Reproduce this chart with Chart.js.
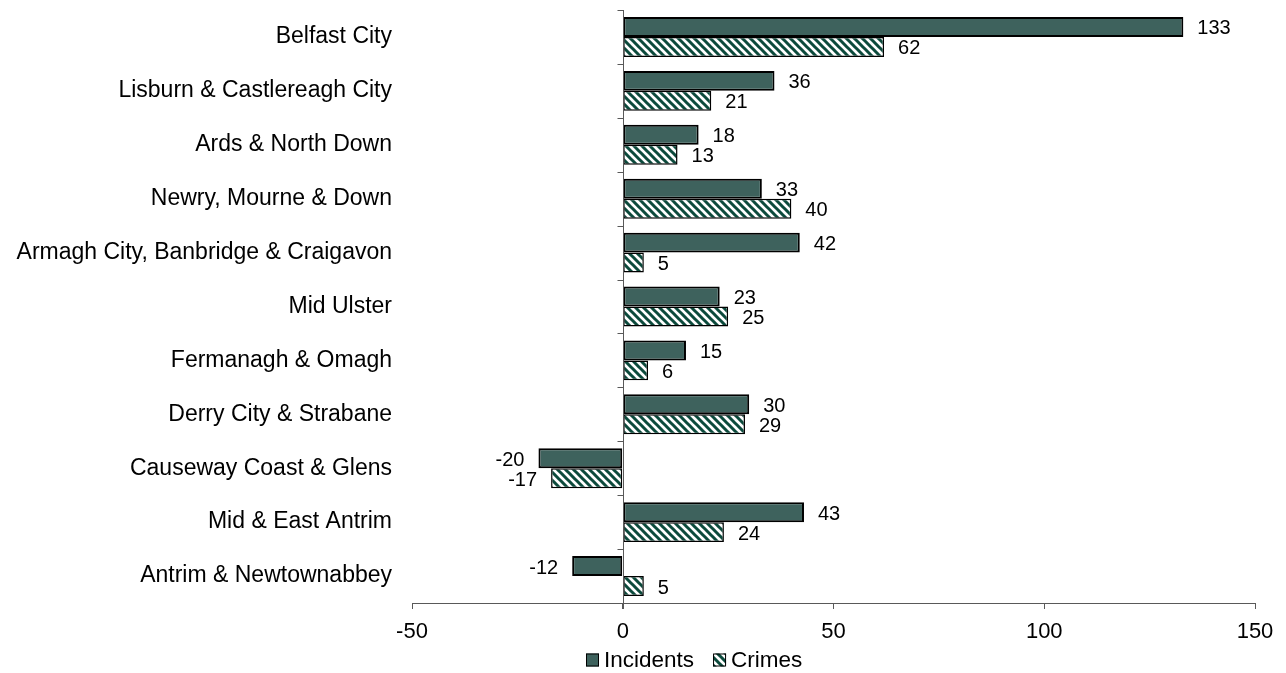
<!DOCTYPE html>
<html>
<head>
<meta charset="utf-8">
<script src="https://cdn.jsdelivr.net/npm/chart.js@4.4.1/dist/chart.umd.min.js"></script>
<style>
  html, body { margin: 0; padding: 0; background: #ffffff; }
  #wrap { width: 1286px; height: 673px; position: relative; }
</style>
</head>
<body>
<div id="wrap"><canvas id="chart" width="1286" height="673"></canvas></div>
<script>
// Change by policing district
const districts = [
  'Belfast City',
  'Lisburn & Castlereagh City',
  'Ards & North Down',
  'Newry, Mourne & Down',
  'Armagh City, Banbridge & Craigavon',
  'Mid Ulster',
  'Fermanagh & Omagh',
  'Derry City & Strabane',
  'Causeway Coast & Glens',
  'Mid & East Antrim',
  'Antrim & Newtownabbey'
];
const incidents = [133, 36, 18, 33, 42, 23, 15, 30, -20, 43, -12];
const crimes = [62, 21, 13, 40, 5, 25, 6, 29, -17, 24, 5];
const xTicks = [-50, 0, 50, 100, 150];

const FONT = '"Liberation Sans", Arial, sans-serif';
const SOLID = '#3e625d';
const HATCH = '#0c4a3c';
const AXIS = '#595959';

// Diagonal stripe fill for the second series
function makeHatch(ctx) {
  const s = 8;
  const c = document.createElement('canvas');
  c.width = s; c.height = s;
  const g = c.getContext('2d');
  g.fillStyle = '#ffffff';
  g.fillRect(0, 0, s, s);
  g.strokeStyle = HATCH;
  g.lineWidth = 3;
  g.beginPath();
  g.moveTo(-s, -s); g.lineTo(2 * s, 2 * s);
  g.moveTo(-s, 0); g.lineTo(s, 2 * s);
  g.moveTo(0, -s); g.lineTo(2 * s, s);
  g.stroke();
  return ctx.createPattern(c, 'repeat');
}
const canvas = document.getElementById('chart');
const hatch = makeHatch(canvas.getContext('2d'));

// Zero line with tick marks at the category boundaries
const zeroAxis = {
  id: 'zeroAxis',
  afterDatasetsDraw(chart) {
    const { ctx, scales: { x, y }, chartArea } = chart;
    const x0 = Math.round(x.getPixelForValue(0)) + 0.5;
    ctx.save();
    ctx.strokeStyle = AXIS;
    ctx.lineWidth = 1;
    ctx.beginPath();
    ctx.moveTo(x0, chartArea.top);
    ctx.lineTo(x0, chartArea.bottom + 6);
    const n = y.ticks.length;
    const step = (chartArea.bottom - chartArea.top) / n;
    for (let i = 0; i < n; i++) {
      const yy = Math.round(y.getPixelForValue(i) - step / 2) + 0.5;
      ctx.moveTo(x0 - 6, yy);
      ctx.lineTo(x0, yy);
    }
    ctx.stroke();
    ctx.restore();
  }
};

// Value labels at the end of each bar
const valueLabels = {
  id: 'valueLabels',
  afterDatasetsDraw(chart) {
    const { ctx } = chart;
    ctx.save();
    ctx.font = '20px ' + FONT;
    ctx.fillStyle = '#000000';
    ctx.textBaseline = 'middle';
    chart.data.datasets.forEach((ds, di) => {
      const meta = chart.getDatasetMeta(di);
      meta.data.forEach((bar, i) => {
        const v = ds.data[i];
        if (v >= 0) {
          ctx.textAlign = 'left';
          ctx.fillText(String(v), bar.x + 14, bar.y + 2);
        } else {
          ctx.textAlign = 'right';
          ctx.fillText(String(v), bar.x - 14, bar.y + 2);
        }
      });
    });
    ctx.restore();
  }
};

// Legend row below the axis
const bottomLegend = {
  id: 'bottomLegend',
  afterDraw(chart) {
    const { ctx } = chart;
    const box = 13;
    const cy = 660;
    let x = 586;
    ctx.save();
    ctx.font = '22.5px ' + FONT;
    ctx.textBaseline = 'middle';
    ctx.textAlign = 'left';
    chart.data.datasets.forEach((ds) => {
      ctx.fillStyle = ds.backgroundColor;
      ctx.fillRect(x, cy - box / 2, box, box);
      ctx.strokeStyle = '#000000';
      ctx.lineWidth = 1;
      ctx.strokeRect(x + 0.5, cy - box / 2 + 0.5, box - 1, box - 1);
      ctx.fillStyle = '#000000';
      ctx.fillText(ds.label, x + box + 5, cy + 1);
      x += box + 5 + ctx.measureText(ds.label).width + 19;
    });
    ctx.restore();
  }
};

new Chart(canvas, {
  type: 'bar',
  data: {
    labels: districts,
    datasets: [
      {
        label: 'Incidents',
        data: incidents,
        backgroundColor: SOLID,
        borderColor: '#000000',
        borderWidth: 2,
        borderSkipped: false,
        categoryPercentage: 0.74,
        barPercentage: 1
      },
      {
        label: 'Crimes',
        data: crimes,
        backgroundColor: hatch,
        borderColor: '#000000',
        borderWidth: 1.5,
        borderSkipped: false,
        categoryPercentage: 0.74,
        barPercentage: 1
      }
    ]
  },
  options: {
    indexAxis: 'y',
    responsive: false,
    animation: false,
    layout: { padding: { top: 10, right: 31, bottom: 30, left: 0 } },
    scales: {
      x: {
        type: 'linear',
        min: xTicks[0],
        max: xTicks[xTicks.length - 1],
        afterBuildTicks(scale) { scale.ticks = xTicks.map(v => ({ value: v })); },
        afterFit(scale) {
          scale.height = 40;
          scale.paddingLeft = 0;
          scale.paddingRight = 0;
        },
        grid: {
          display: true,
          drawOnChartArea: false,
          drawTicks: true,
          tickLength: 6,
          tickColor: AXIS,
          color: AXIS
        },
        border: { display: true, color: AXIS, width: 1 },
        ticks: {
          font: { family: FONT, size: 22 },
          color: '#000000',
          padding: 10,
          maxRotation: 0
        }
      },
      y: {
        type: 'category',
        afterFit(scale) {
          scale.width = 412;
          scale.paddingTop = 0;
          scale.paddingBottom = 0;
        },
        grid: { display: false },
        border: { display: false },
        ticks: {
          font: { family: FONT, size: 23 },
          color: '#000000',
          padding: 12
        }
      }
    },
    plugins: {
      legend: { display: false },
      tooltip: { enabled: false }
    }
  },
  plugins: [zeroAxis, valueLabels, bottomLegend]
});
</script>
</body>
</html>
